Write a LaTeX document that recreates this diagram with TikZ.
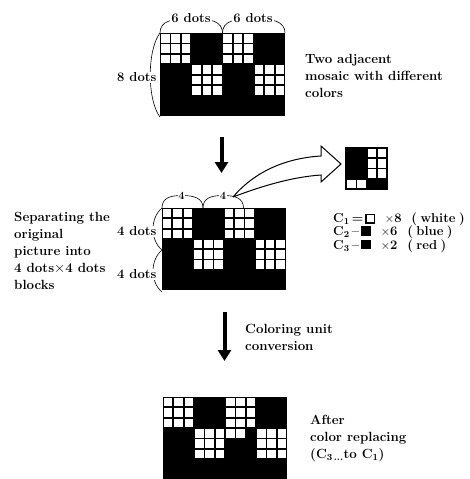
\documentclass[tikz,border=0pt]{standalone}
\usetikzlibrary{arrows.meta}
\newcommand{\dotgrid}[3]{%
  \fill[black] (#1,#2) rectangle ({#1+12*#3},{#2+8*#3});
  \foreach \bc/\br in {0/0,3/3,6/0,9/3}{
    \foreach \i in {0,1,2}{\foreach \j in {0,1,2}{
      \fill[white] ({#1+(\bc+\i)*#3+0.9},{#2+(\br+\j)*#3+0.9}) rectangle ++({#3-1.8},{#3-1.8});
    }}}%
}
\newcommand{\wsq}{{\setlength{\fboxsep}{0pt}\setlength{\fboxrule}{1.4pt}\fbox{\rule{0pt}{7pt}\hspace{7pt}}}}
\newcommand{\bsq}{\rule{9.8pt}{9.8pt}}
\tikzset{
  lbl/.style={font=\fontsize{13.3}{17}\selectfont\bfseries, align=left, inner sep=0pt, anchor=north west},
  dimlbl/.style={font=\fontsize{13}{15}\selectfont\bfseries, fill=white, inner sep=1pt},
  numlbl/.style={font=\fontsize{11}{13}\selectfont\bfseries, fill=white, inner sep=0.8pt},
  dimarc/.style={line width=0.6pt},
  bigarrow/.style={line width=4pt, -{Triangle[width=13pt,length=11pt]}},
  hollow/.style={line width=1pt, fill=white, line join=miter}
}
\begin{document}
\begin{tikzpicture}[x=1pt,y=-1pt]
\useasboundingbox (0,0) rectangle (469,479);
% ---------- top grid ----------
\dotgrid{160}{33}{10.42}
\coordinate (tl) at (160,33);
\coordinate (tm) at (222.5,33);
\coordinate (tr) at (285,33);
\coordinate (tb) at (160,117);
\draw[dimarc] (tl) .. controls (160,21) and (172,18.5) .. (191,18.5) .. controls (210,18.5) and (222.5,21) .. (tm);
\draw[dimarc] (tm) .. controls (222.5,21) and (235,18.5) .. (253,18.5) .. controls (272,18.5) and (285,21) .. (tr);
\draw[dimarc] (tl) .. controls (147,50) and (147,100) .. (tb);
\node[dimlbl] (six1) at (191,18.5) {6 dots};
\node[dimlbl] (six2) at (253,18.5) {6 dots};
\node[dimlbl, anchor=east] (eight) at (157.5,77.5) {8 dots};
\node[lbl] (two) at (305,54) {Two adjacent\\mosaic with different\\colors};
% ---------- arrow 1 ----------
\coordinate (a1s) at (221.5,137);
\coordinate (a1e) at (221.5,173);
\draw[bigarrow] (a1s) -- (a1e);
% ---------- middle grid ----------
\dotgrid{162}{208}{10.3}
\coordinate (ml) at (162,208);
\coordinate (m4) at (203,208);
\coordinate (m8) at (243.5,208);
\coordinate (mh) at (162,250);
\coordinate (mb) at (162,292);
\draw[dimarc] (ml) .. controls (162,198) and (170,195.5) .. (182,195.5) .. controls (194,195.5) and (203,198) .. (m4);
\draw[dimarc] (m4) .. controls (203,198) and (211,195.5) .. (223,195.5) .. controls (235,195.5) and (243.5,198) .. (m8);
\draw[dimarc] (ml) .. controls (150,218) and (150,240) .. (mh);
\draw[dimarc] (mh) .. controls (150,260) and (150,282) .. (mb);
\node[numlbl] (f1) at (181.5,196) {4};
\node[numlbl] (f2) at (223,196) {4};
\node[dimlbl, anchor=east] (fd1) at (157.5,231.5) {4 dots};
\node[dimlbl, anchor=east] (fd2) at (157.5,274.5) {4 dots};
\node[lbl] (sep) at (14,212) {Separating the\\original\\picture into\\4 dots$\times$4 dots\\blocks};
% ---------- curved hollow arrow ----------
\coordinate (cs) at (233,197);
\draw[hollow] (cs) .. controls (256,170) and (288,158) .. (321,156)
  -- (321,146) -- (341,164) -- (321,182) -- (321,175)
  .. controls (292,177) and (262,186) .. (cs);
% ---------- magnified block ----------
\fill[black] (345,147) rectangle (388,190);
\foreach \c/\r in {2/0,3/0,2/1,3/1,2/2,3/2,0/3,1/3}{
  \fill[white] ({346.2+\c*10.2+0.9},{148+\r*10.2+0.9}) rectangle ++(8.4,8.4);
}
\node[font=\fontsize{13}{13.5}\selectfont\bfseries, align=left, inner sep=0pt, anchor=north west] (cl) at (333,212.5)
  {C\textsubscript{1}\,=\,\wsq\ \ $\times$8\ \ (\hspace{3.5pt}white\hspace{3.5pt})\\
   C\textsubscript{2}\,--\,\bsq\ \ $\times$6\ \ (\hspace{3.5pt}blue\hspace{3.5pt})\\
   C\textsubscript{3}\,--\,\bsq\ \ $\times$2\ \ (\hspace{3.5pt}red\hspace{3.5pt})};
% ---------- arrow 2 ----------
\coordinate (a2s) at (224.5,312);
\coordinate (a2e) at (224.5,361);
\draw[bigarrow] (a2s) -- (a2e);
\node[font=\fontsize{13.3}{16.5}\selectfont\bfseries, align=left, inner sep=0pt, anchor=north west] (conv) at (245,324.5) {Coloring unit\\conversion};
% ---------- bottom grid ----------
\dotgrid{163}{397}{10.35}
\foreach \c/\r in {6/3,7/3}{
  \fill[white] ({163+\c*10.35+0.9},{397+\r*10.35+0.9}) rectangle ++(8.55,8.55);
}
\node[lbl] (after) at (310,415) {After\\color replacing\\(C\textsubscript{3\,...}to C\textsubscript{1})};
\end{tikzpicture}
\end{document}
